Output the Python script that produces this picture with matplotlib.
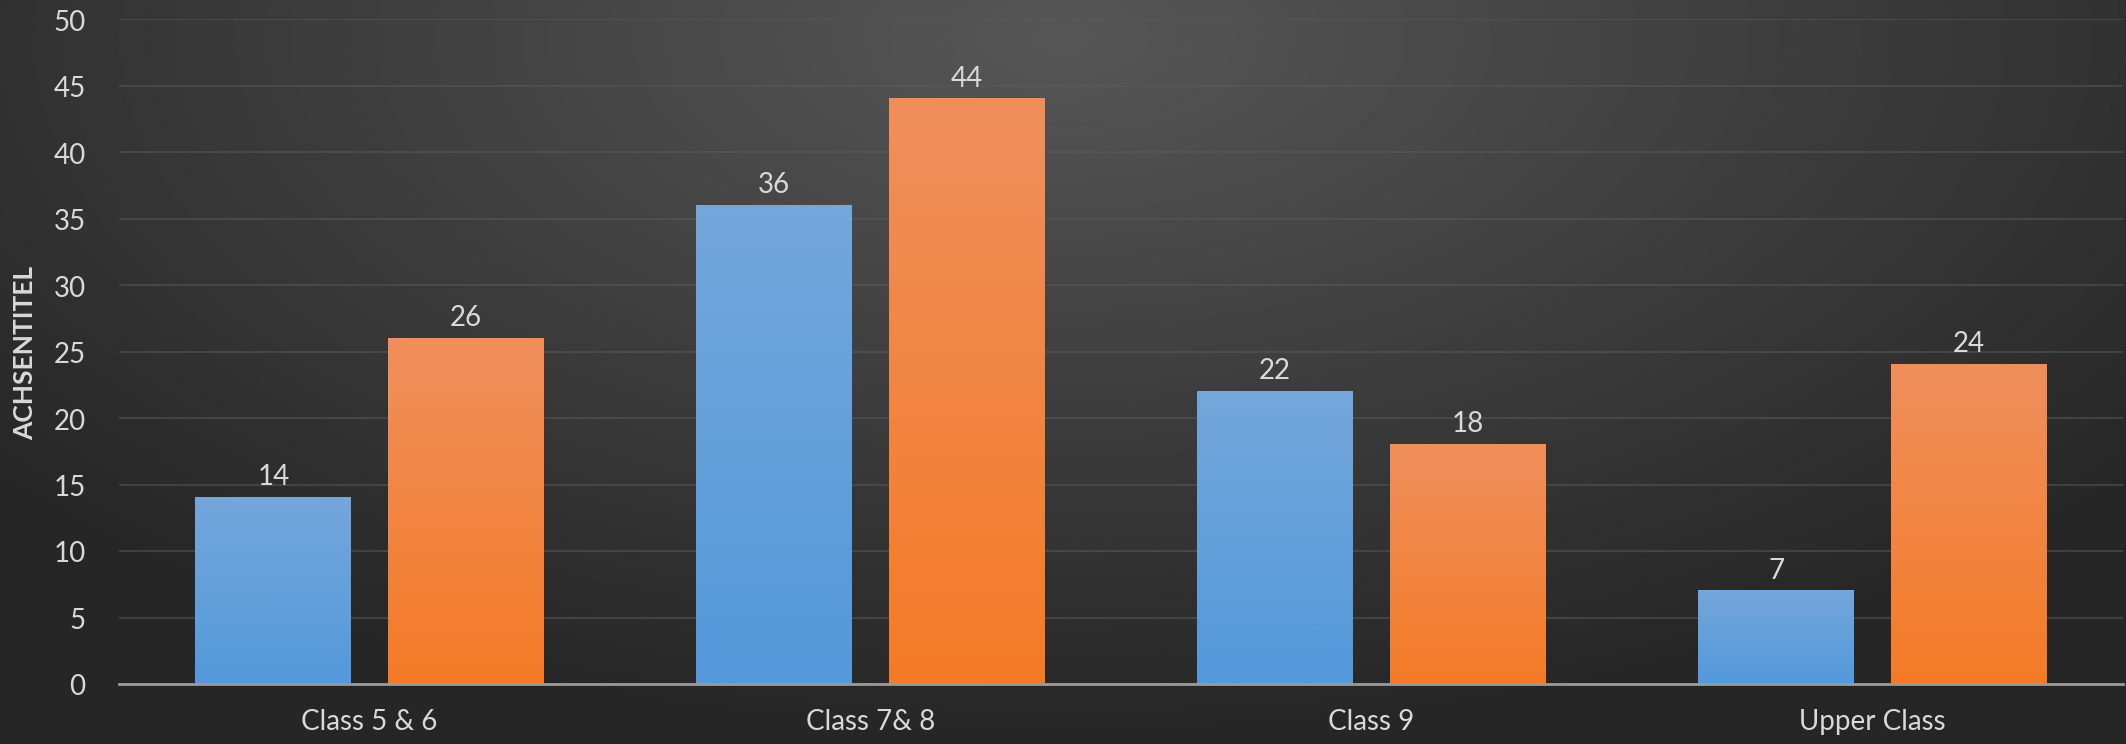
import matplotlib.pyplot as plt
import numpy as np

categories = ["Class 5 & 6", "Class 7& 8", "Class 9", "Upper Class"]
series_blue = [14, 36, 22, 7]
series_orange = [26, 44, 18, 24]
yticks = [0, 5, 10, 15, 20, 25, 30, 35, 40, 45, 50]

plt.rcParams['font.family'] = ['Lato', 'DejaVu Sans']
txt = '#d9d9d9'

fig = plt.figure(figsize=(21.26, 7.449), dpi=100)

# radial background
bg = fig.add_axes([0, 0, 1, 1], zorder=0)
yy, xx = np.mgrid[0:1:300j, 0:1:800j]
r = np.sqrt(((xx - 0.5) * 1.3) ** 2 + ((yy - 0.05) * 0.9) ** 2)
grad = np.clip(1 - r / 0.85, 0, 1)
bg.imshow(0.15 + 0.19 * grad, cmap='gray', vmin=0, vmax=1, aspect='auto',
          extent=[0, 1, 0, 1], origin='upper')
bg.axis('off')

ax = fig.add_axes([0.056, 0.0805, 0.9425, 0.8925], zorder=1)
ax.patch.set_alpha(0)

x = np.arange(len(categories))
w = 0.311
off = (w + 0.073) / 2
b1 = ax.bar(x - off, series_blue, w, color='#5f9edb', zorder=3)
b2 = ax.bar(x + off, series_orange, w, color='#f4812f', zorder=3)

# vertical gradient fills on bars
def grad_fill(bars, top, bottom):
    top = np.array(plt.matplotlib.colors.to_rgb(top))
    bottom = np.array(plt.matplotlib.colors.to_rgb(bottom))
    t = np.linspace(0, 1, 200)[:, None]
    img = (top * (1 - t) + bottom * t)[:, None, :]
    for b in bars:
        x0, y0 = b.get_x(), b.get_y()
        x1, y1 = x0 + b.get_width(), y0 + b.get_height()
        b.set_facecolor('none')
        ax.imshow(img, extent=[x0, x1, y0, y1], aspect='auto', zorder=3, origin='upper')

grad_fill(b1, '#74a7db', '#5399db')
grad_fill(b2, '#f08f5c', '#f47b27')

for bars, vals in ((b1, series_blue), (b2, series_orange)):
    for b, v in zip(bars, vals):
        ax.annotate(str(v), (b.get_x() + b.get_width() / 2, v), xytext=(0, 6),
                    textcoords='offset points', ha='center', va='bottom',
                    fontsize=20, color=txt, zorder=4)

ax.set_xlim(-0.5, len(categories) - 0.5)
ax.set_ylim(0, 50)
ax.set_yticks(yticks)
ax.set_xticks(x)
ax.set_xticklabels(categories)
ax.tick_params(axis='both', length=0, colors=txt, labelsize=20)
ax.tick_params(axis='y', pad=24)
ax.tick_params(axis='x', pad=17)
ax.grid(axis='y', color='#5a5a5a', lw=1.5, alpha=0.5, zorder=1)
for s in ['top', 'right', 'left']:
    ax.spines[s].set_visible(False)
ax.spines['bottom'].set_color('#9a9a9a')
ax.spines['bottom'].set_linewidth(2)
ax.spines['bottom'].set_zorder(5)
ax.set_ylabel('ACHSENTITEL', fontsize=19, fontweight='bold', color=txt,
              family=['Liberation Sans Narrow', 'Lato', 'DejaVu Sans'])
ax.yaxis.set_label_coords(-0.041, 0.5)

fig.savefig('out.png', dpi=100)
